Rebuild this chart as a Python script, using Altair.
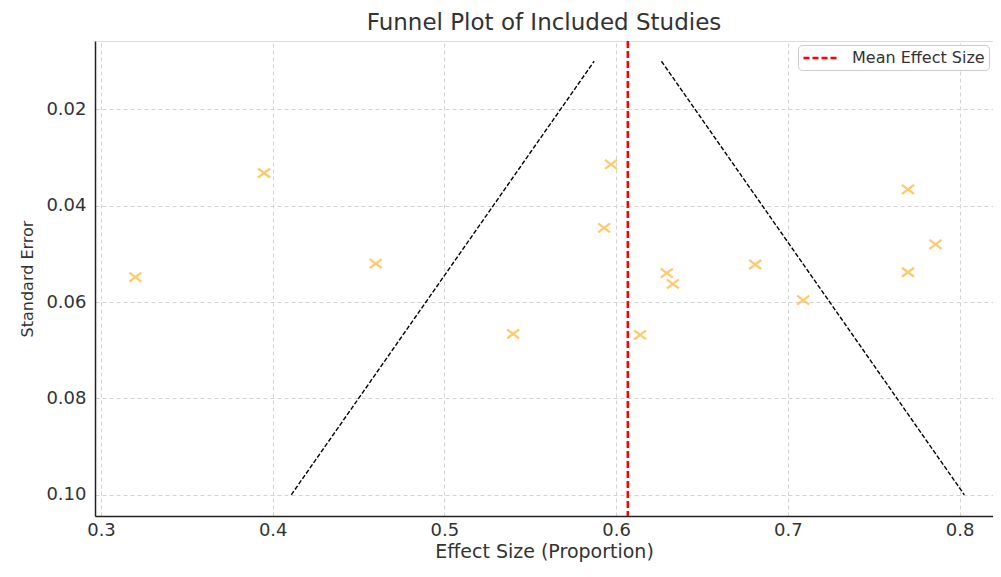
import altair as alt
import pandas as pd

# Study data
effect = [0.320, 0.395, 0.460, 0.540, 0.597, 0.593, 0.614, 0.6295, 0.633, 0.681, 0.709, 0.770, 0.770, 0.786]
se = [0.0548, 0.0332, 0.0520, 0.0666, 0.0314, 0.0446, 0.0668, 0.0540, 0.0562, 0.0522, 0.0596, 0.0366, 0.0538, 0.0480]
mean_effect = 0.6068

# Funnel boundary endpoints (pseudo 95% CI)
funnel_se = [0.01, 0.10]
funnel_lower = [0.5872, 0.4108]
funnel_upper = [0.6264, 0.8028]

x_ticks = [0.3, 0.4, 0.5, 0.6, 0.7, 0.8]
y_ticks = [0.02, 0.04, 0.06, 0.08, 0.10]

FONT = "DejaVu Sans"
TXT = "#333333"

pts = pd.DataFrame({"effect": effect, "se": se})
fun = pd.DataFrame({
    "se": funnel_se + funnel_se,
    "effect": funnel_lower + funnel_upper,
    "side": ["lower"] * len(funnel_se) + ["upper"] * len(funnel_se),
})
mean_df = pd.DataFrame({"effect": [mean_effect], "label": ["Mean Effect Size"]})

xscale = alt.Scale(domain=[0.2965, 0.8195], nice=False, zero=False)
yscale = alt.Scale(domain=[0.0058, 0.1044], nice=False, zero=False, reverse=True)

xaxis = alt.Axis(values=x_ticks, format=".1f", title="Effect Size (Proportion)",
                 grid=True, gridDash=[4, 3], gridColor="#d3d3d3", gridWidth=1,
                 ticks=False, labelPadding=5, labelFontSize=18, titleFontSize=19,
                 titlePadding=3, domainColor="#222222", domainWidth=1.5,
                 labelColor=TXT, titleColor=TXT, labelFont=FONT, titleFont=FONT,
                 titleFontWeight="normal", labelFlush=False)
yaxis = alt.Axis(values=y_ticks, format=".2f", title="Standard Error",
                 grid=True, gridDash=[4, 3], gridColor="#d3d3d3", gridWidth=1,
                 ticks=False, labelPadding=9, labelFontSize=18, titleFontSize=16,
                 titlePadding=10, domainColor="#222222", domainWidth=1.5,
                 labelColor=TXT, titleColor=TXT, labelFont=FONT, titleFont=FONT,
                 titleFontWeight="normal", labelFlush=False)

points = alt.Chart(pts).mark_point(
    shape="M-1.33,-1L1.33,1M-1.33,1L1.33,-1", filled=False,
    stroke="#FFB52E", strokeOpacity=1, strokeWidth=2.3, size=81
).encode(
    x=alt.X("effect:Q", scale=xscale, axis=xaxis),
    y=alt.Y("se:Q", scale=yscale, axis=yaxis),
)

funnel = alt.Chart(fun).mark_line(color="black", strokeDash=[4.5, 2], strokeWidth=1.4).encode(
    x=alt.X("effect:Q", scale=xscale),
    y=alt.Y("se:Q", scale=yscale),
    detail="side:N",
)

mean_rule = alt.Chart(mean_df).mark_rule(strokeDash=[7, 3], strokeWidth=2.5).encode(
    x=alt.X("effect:Q", scale=xscale),
    color=alt.Color("label:N", scale=alt.Scale(range=["#ff0000"]),
                    legend=alt.Legend(title=None, orient="top-right", offset=4,
                                      symbolType="M-1,0L3.8,0", symbolDash=[6, 3],
                                      symbolStrokeWidth=2.5, symbolSize=225,
                                      labelFontSize=16, labelFont=FONT, labelColor=TXT,
                                      labelOffset=32, strokeColor="#cccccc",
                                      fillColor="white", cornerRadius=4,
                                      padding=4)),
)

chart = alt.layer(points, funnel, mean_rule).properties(
    width=898, height=475,
    title=alt.TitleParams("Funnel Plot of Included Studies", fontSize=23, font=FONT,
                          fontWeight="normal", color=TXT, offset=5),
    autosize=alt.AutoSizeParams(type="none"),
    padding={"left": 87, "top": 33, "right": 0, "bottom": 50},
).configure_view(stroke=None).configure(background="white")

chart.save("out.html", embed_options={"renderer": "svg", "actions": False})
